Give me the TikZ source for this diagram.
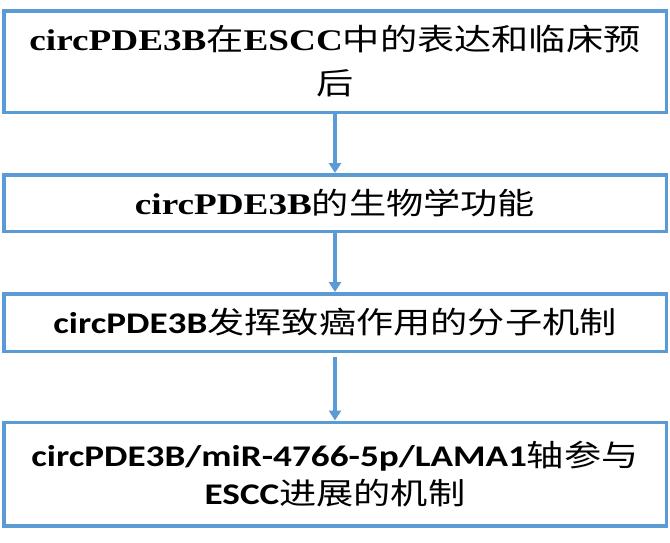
\documentclass[tikz,border=0pt]{standalone}
\usepackage{fontspec}
\setmainfont{Liberation Serif}
\newfontfamily\calibfont{Carlito}
\newfontfamily\cjk{Noto Sans CJK SC}
\usetikzlibrary{arrows.meta}
\definecolor{boxblue}{HTML}{5B9BD5}
\newcommand{\stretchtxt}[1]{\scalebox{1.24}[1]{#1}}
\tikzset{
  stepbox/.style={draw=boxblue, line width=3.5pt, inner sep=0pt, align=center,
    minimum width=662.5pt, text=black},
  flow/.style={draw=boxblue, line width=3.5pt, -{Triangle[width=12pt,length=10pt]}}
}
\begin{document}
\begin{tikzpicture}[x=1pt,y=-1pt]
\useasboundingbox (0,0) rectangle (670,542);
\node[stepbox, minimum height=101.5pt, font={\fontsize{30}{44}\selectfont\bfseries}] (b1) at (335,61.5)
  {\stretchtxt{circPDE3B{\cjk\mdseries 在}ESCC{\cjk\mdseries 中的表达和临床预}}\\
   \stretchtxt{\cjk\mdseries 后}};
\node[stepbox, minimum height=56.5pt, font={\fontsize{30}{34}\selectfont\bfseries}] (b2) at (335,203)
  {\stretchtxt{circPDE3B{\cjk\mdseries 的生物学功能}}};
\node[stepbox, minimum height=57.5pt, font={\fontsize{30}{34}\selectfont\calibfont\bfseries}] (b3) at (335,322.5)
  {\stretchtxt{circPDE3B{\cjk\mdseries 发挥致癌作用的分子机制}}};
\node[stepbox, minimum height=103.5pt, font={\fontsize{30}{38}\selectfont\calibfont\bfseries}] (b4) at (335,474)
  {\stretchtxt{circPDE3B/miR-4766-5p/LAMA1{\cjk\mdseries 轴参与}}\\
   \stretchtxt{ESCC{\cjk\mdseries 进展的机制}}};
\draw[flow] (b1) -- (b2);
\draw[flow] (b2) -- (b3);
\draw[flow, shorten <=4pt] (b3) -- (b4);
\end{tikzpicture}
\end{document}
